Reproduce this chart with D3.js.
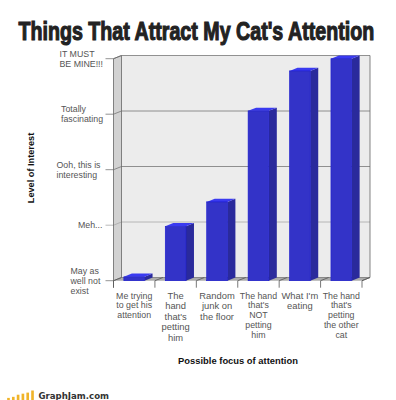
<!DOCTYPE html>
<html>
<head>
<meta charset="utf-8">
<script src="https://cdn.jsdelivr.net/npm/d3@7"></script>
<style>
  html, body { margin: 0; padding: 0; background: #fff; }
  svg { display: block; }
  text { font-family: "Liberation Sans", Arial, sans-serif; }
</style>
</head>
<body>
<div id="chart"></div>
<script>
const categories = [
    ["Me trying", "to get his", "attention"],
    ["The", "hand", "that's", "petting", "him"],
    ["Random", "junk on", "the floor"],
    ["The hand", "that's", "NOT", "petting", "him"],
    ["What I'm", "eating"],
    ["The hand", "that's", "petting", "the other", "cat"]
];
const values = [0.07, 0.98, 1.42, 3.06, 3.78, 4];
const levelTicks = [0, 1, 2, 3, 4];
const levelLabels = [
    ["May as", "well not", "exist"],
    ["Meh..."],
    ["Ooh, this is", "interesting"],
    ["Totally", "fascinating"],
    ["IT MUST", "BE MINE!!!"]
];
const logoBars = [2, 3, 5, 6, 7, 9];

const svg = d3.select("#chart").append("svg").attr("width", 396).attr("height", 400);

/* ----------------------- Scales ----------------------- */
const x = d3.scaleBand().domain(d3.range(categories.length)).range([113.5, 362]).paddingInner(0.5).paddingOuter(0.25);
const tickX = d3.scaleLinear().domain([0, categories.length]).range([113.5, 362]);
const y = d3.scaleLinear().domain([0, 4]).range([280.7, 58.7]);
const depthX = 8, depthY = 3.2;

const poly = (pts) => pts.map((p) => p.join(",")).join(" ");

/* ----------------------- Walls and floor ----------------------- */
const x0 = tickX(0), x1 = tickX(categories.length), yBottom = y(0), yTop = y(4);

svg.append("polygon") // back wall
    .attr("points", poly([[x0 + depthX, yTop - depthY], [x1 + depthX, yTop - depthY], [x1 + depthX, yBottom - depthY], [x0 + depthX, yBottom - depthY]]))
    .attr("fill", "#ececec");
svg.append("polygon") // left wall
    .attr("points", poly([[x0, yTop], [x0 + depthX, yTop - depthY], [x0 + depthX, yBottom - depthY], [x0, yBottom]]))
    .attr("fill", "#d2d2d2");
svg.append("polygon") // floor
    .attr("points", poly([[x0, yBottom], [x0 + depthX, yBottom - depthY], [x1 + depthX, yBottom - depthY], [x1, yBottom]]))
    .attr("fill", "#acacac");

// gridlines on the back wall, slanted part on the left wall, tick stub outside
levelTicks.forEach((d) => {
    svg.append("polyline")
        .attr("points", poly([[x0 - 8, y(d)], [x0, y(d)], [x0 + depthX, y(d) - depthY], [x1 + depthX, y(d) - depthY]]))
        .attr("fill", "none")
        .attr("stroke", d === 1 ? "#a8a8a8" : "#777")
        .attr("stroke-width", 0.8);
});

// right and left edges
svg.append("polyline")
    .attr("points", poly([[x0, yBottom + 7], [x0, yTop], [x0 + depthX, yTop - depthY], [x0 + depthX, yBottom - depthY]]))
    .attr("fill", "none").attr("stroke", "#666").attr("stroke-width", 0.8);
svg.append("polyline")
    .attr("points", poly([[x1 + depthX, yTop - depthY], [x1 + depthX, yBottom - depthY], [x1, yBottom]]))
    .attr("fill", "none").attr("stroke", "#666").attr("stroke-width", 0.8);

// x ticks and the slanted floor dividers
d3.range(categories.length + 1).forEach((i) => {
    svg.append("polyline")
        .attr("points", poly([[tickX(i), yBottom + 7], [tickX(i), yBottom], [tickX(i) + depthX, yBottom - depthY]]))
        .attr("fill", "none").attr("stroke", "#555").attr("stroke-width", 0.8);
});

/* ----------------------- Bars ----------------------- */
const bars = svg.selectAll(".bar").data(values).enter().append("g").attr("class", "bar");

bars.append("polygon") // side
    .attr("points", (d, i) => {
        const r = x(i) + x.bandwidth();
        return poly([[r, y(d)], [r + depthX, y(d) - depthY], [r + depthX, yBottom - depthY], [r, yBottom]]);
    })
    .attr("fill", "#2a2a9c");
bars.append("polygon") // top
    .attr("points", (d, i) => {
        const l = x(i), r = l + x.bandwidth();
        return poly([[l, y(d)], [l + depthX, y(d) - depthY], [r + depthX, y(d) - depthY], [r, y(d)]]);
    })
    .attr("fill", "#3a3af0");
bars.append("rect") // front
    .attr("x", (d, i) => x(i))
    .attr("y", (d) => y(d))
    .attr("width", x.bandwidth())
    .attr("height", (d) => yBottom - y(d))
    .attr("fill", "#3333c8")
    .attr("stroke", "#1a1ad0")
    .attr("stroke-width", 0.6);

/* ----------------------- Labels ----------------------- */
const labelColor = "#555";

// multi-line y labels are left aligned in the original
const yLabelX = [70.5, 78, 56.5, 61, 59.5];
levelLabels.forEach((lines, i) => {
    const mid = y(levelTicks[i]);
    const t = svg.append("text")
        .attr("font-size", 8.8)
        .attr("fill", labelColor)
        .attr("x", yLabelX[i]);
    lines.forEach((line, j) => {
        t.append("tspan")
            .attr("x", yLabelX[i])
            .attr("y", mid + 3 + (j - (lines.length - 1) / 2) * 9.8)
            .text(line);
    });
});

// some of the x labels are set a bit larger in the original
const largeLabels = new Set([1, 2, 4]);
categories.forEach((lines, i) => {
    const large = largeLabels.has(i);
    const t = svg.append("text")
        .attr("font-size", large ? 9.4 : 8.8)
        .attr("fill", labelColor)
        .attr("text-anchor", "middle");
    lines.forEach((line, j) => {
        t.append("tspan")
            .attr("x", (tickX(i) + tickX(i + 1)) / 2)
            .attr("y", 298.7 + j * (large ? 10.5 : 9.75))
            .text(line);
    });
});

svg.append("text")
    .attr("x", 238).attr("y", 364)
    .attr("text-anchor", "middle")
    .attr("font-size", 9.4).attr("font-weight", "bold").attr("fill", "#111")
    .text("Possible focus of attention");

svg.append("text")
    .attr("transform", "translate(34,168) rotate(-90)")
    .attr("text-anchor", "middle")
    .attr("font-size", 9.2).attr("font-weight", "bold").attr("fill", "#111")
    .text("Level of Interest");

// title, squeezed to imitate the heavy condensed face
const title = svg.append("text")
    .attr("font-size", 25).attr("font-weight", "bold")
    .attr("fill", "#222").attr("stroke", "#222").attr("stroke-width", 1.1)
    .style("font-family", "'Liberation Sans Narrow', 'Liberation Sans', sans-serif")
    .text("Things That Attract My Cat's Attention");
const titleScale = 356 / title.node().getComputedTextLength();
title.attr("transform", `translate(18.5,40) scale(${titleScale},1)`);

/* ----------------------- GraphJam logo ----------------------- */
const logoX = d3.scaleBand().domain(d3.range(logoBars.length)).range([5, 36]).padding(0.45);
const logoY = d3.scaleLinear().domain([0, 9]).range([400, 390.5]);
svg.selectAll(".logo-bar").data(logoBars).enter().append("rect")
    .attr("class", "logo-bar")
    .attr("x", (d, i) => logoX(i))
    .attr("y", (d) => logoY(d))
    .attr("width", logoX.bandwidth())
    .attr("height", (d) => 400 - logoY(d))
    .attr("fill", "#f0b429");

svg.append("text")
    .attr("x", 38.5).attr("y", 398.5)
    .attr("textLength", 70.5)
    .attr("lengthAdjust", "spacingAndGlyphs")
    .attr("font-size", 9.2).attr("font-weight", "bold").attr("fill", "#333")
    .style("font-family", "'DejaVu Sans', sans-serif")
    .text("GraphJam.com");
</script>
</body>
</html>
